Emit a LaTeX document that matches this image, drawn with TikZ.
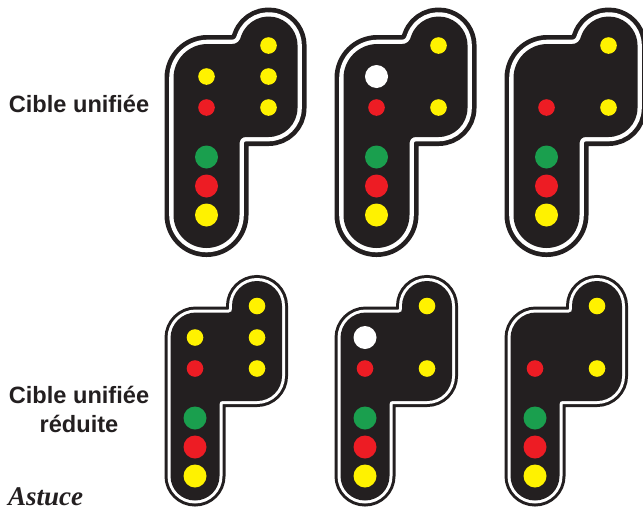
\documentclass[tikz,border=0pt]{standalone}
\usepackage{fontspec}
\setmainfont{Liberation Serif}
\setsansfont{Liberation Sans}
\definecolor{panelblack}{HTML}{231F20}
\definecolor{lampyellow}{HTML}{FFF200}
\definecolor{lampred}{HTML}{ED1C24}
\definecolor{lampgreen}{HTML}{1A9F4E}
\begin{document}
\begin{tikzpicture}[
  x=1pt, y=-1pt,
  lamp/.style={circle, minimum size=16.6pt, inner sep=0},
  biglamp/.style={circle, minimum size=23pt, inner sep=0},
  rowlabel/.style={font=\sffamily\bfseries\fontsize{23.6}{29}\selectfont, text=panelblack, align=center, inner sep=0}
]
\useasboundingbox (0,0) rectangle (643,509);
\clip (0,0) rectangle (643,509);
% top row
\foreach \p/\dx in {a/0,b/170,c/340}{
  \begin{scope}[shift={(\dx,0)}]
    \def\outline{(173.5,215) -- (173.5,78) arc[start angle=180, end angle=270, radius=34]
      -- (232,44) .. controls (237,44) and (240,41) .. (241.3,35.6)
      arc[start angle=200, end angle=360, radius=29] -- (297.5,108)
      arc[start angle=0, end angle=90, radius=29] -- (246,137)
      .. controls (241.5,137) and (239.5,140) .. (239.5,144) -- (239.5,215)
      arc[start angle=0, end angle=180, radius=33] -- cycle}
    \draw[panelblack, line width=18pt] \outline;
    \draw[white, line width=8.6pt] \outline;
    \fill[panelblack] \outline;
    \node[lamp, fill=lampyellow] (\p1) at (268.5,45.5) {};
    \node[lamp, fill=lampyellow] (\p2) at (268.5,107.5) {};
    \node[lamp, fill=lampred] (\p3) at (206.5,107.5) {};
    \node[biglamp, fill=lampgreen] (\p4) at (206.5,157) {};
    \node[biglamp, fill=lampred] (\p5) at (206.5,186) {};
    \node[biglamp, fill=lampyellow] (\p6) at (206.5,215) {};
  \end{scope}
}
\node[lamp, fill=lampyellow] (a7) at (206.5,76.5) {};
\node[lamp, fill=lampyellow] (a8) at (268.5,76.5) {};
\node[biglamp, fill=white] (b7) at (376.5,76.5) {};
% bottom row
\foreach \p/\dx in {d/0,e/170,f/340}{
  \begin{scope}[shift={(\dx,0)}]
    \def\outline{(170.5,476) -- (170.5,338) arc[start angle=180, end angle=270, radius=25.5]
      -- (229,312.5) .. controls (231,312.5) and (232,311) .. (232,309) -- (232,306)
      arc[start angle=180, end angle=360, radius=25] -- (282,376)
      arc[start angle=0, end angle=90, radius=25] -- (222.5,401)
      .. controls (220.5,401) and (219.5,402) .. (219.5,404) -- (219.5,476)
      arc[start angle=0, end angle=180, radius=24.5] -- cycle}
    \draw[panelblack, line width=12pt] \outline;
    \draw[white, line width=6pt] \outline;
    \fill[panelblack] \outline;
    \node[lamp, fill=lampyellow] (\p1) at (257,306) {};
    \node[lamp, fill=lampyellow] (\p2) at (257,368.5) {};
    \node[lamp, fill=lampred] (\p3) at (195,368.5) {};
    \node[biglamp, fill=lampgreen] (\p4) at (195,418) {};
    \node[biglamp, fill=lampred] (\p5) at (195,447) {};
    \node[biglamp, fill=lampyellow] (\p6) at (195,476) {};
  \end{scope}
}
\node[lamp, fill=lampyellow] (d7) at (195,337.5) {};
\node[lamp, fill=lampyellow] (d8) at (257,337.5) {};
\node[biglamp, fill=white] (e7) at (365,337.5) {};
\node[rowlabel] (unifiee) at (79,104) {Cible unifiée};
\node[rowlabel] (reduite) at (79,409.5) {Cible unifiée\\réduite};
\node[font=\bfseries\itshape\fontsize{27}{27}\selectfont, text=panelblack, anchor=base west, inner sep=0] (astuce) at (8,505) {Astuce};
\end{tikzpicture}
\end{document}
